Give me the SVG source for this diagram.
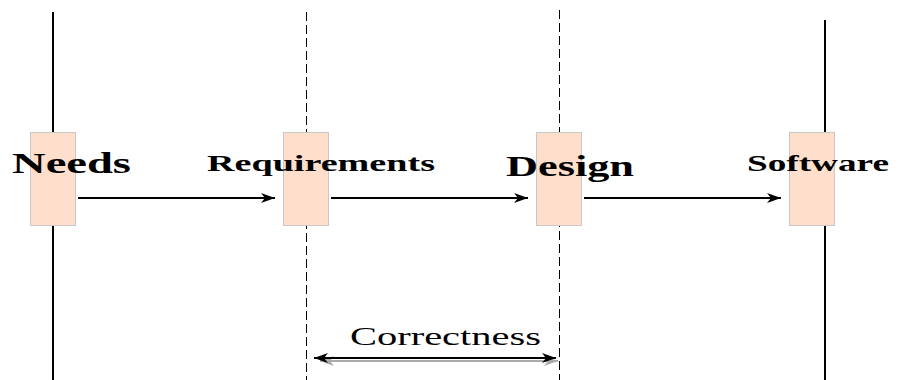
<svg xmlns="http://www.w3.org/2000/svg" width="907" height="380" viewBox="0 0 907 380">
<style>
.life{stroke:#000;stroke-width:2;fill:none}
.dash{stroke:#000;stroke-width:1;stroke-dasharray:9 4;fill:none}
.box{fill:#ffdfcc;stroke:#c8c8c8;stroke-width:1}
.lbl{font-family:"Liberation Serif","Times New Roman",serif;font-weight:bold;fill:#000}
.msg{stroke:#000;stroke-width:2;fill:none}
</style>
<defs>
<marker id="ah" viewBox="0 0 14 10" refX="14" refY="5" markerWidth="15" markerHeight="10" markerUnits="userSpaceOnUse" orient="auto-start-reverse">
<path d="M0,0 L14,5 L0,10 L4,5 Z" fill="#000"/>
</marker>
<marker id="ahg" viewBox="0 0 14 10" refX="14" refY="5" markerWidth="15" markerHeight="10" markerUnits="userSpaceOnUse" orient="auto-start-reverse">
<path d="M0,0 L14,5 L0,10 L4,5 Z" fill="#aaa"/>
</marker>
</defs>
<g id="lifelines">
<line class="life" x1="53" y1="12" x2="53" y2="132"/>
<line class="life" x1="53" y1="226" x2="53" y2="380" stroke="#555"/>
<line class="dash" x1="306.5" y1="12" x2="306.5" y2="380"/>
<line class="dash" x1="559.5" y1="10" x2="559.5" y2="380"/>
<line class="life" x1="825" y1="20" x2="825" y2="380"/>
</g>
<g id="needs">
<rect class="box" x="30.5" y="132.5" width="45" height="93"/>
<text class="lbl" x="12" y="173" font-size="30" textLength="119" lengthAdjust="spacingAndGlyphs">Needs</text>
</g>
<g id="requirements">
<rect class="box" x="283.5" y="132.5" width="45" height="93"/>
<text class="lbl" x="207" y="171" font-size="24" textLength="228" lengthAdjust="spacingAndGlyphs">Requirements</text>
</g>
<g id="design">
<rect class="box" x="536.5" y="132.5" width="45" height="93"/>
<text class="lbl" x="506" y="176" font-size="30" textLength="128" lengthAdjust="spacingAndGlyphs">Design</text>
</g>
<g id="software">
<rect class="box" x="789.5" y="132.5" width="45" height="93"/>
<text class="lbl" x="747" y="171" font-size="24" textLength="142" lengthAdjust="spacingAndGlyphs">Software</text>
</g>
<g id="connectors">
<line class="msg" x1="78" y1="198" x2="275" y2="198" marker-end="url(#ah)"/>
<line class="msg" x1="331" y1="198" x2="528" y2="198" marker-end="url(#ah)"/>
<line class="msg" x1="584" y1="198" x2="781" y2="198" marker-end="url(#ah)"/>
<line x1="320" y1="361" x2="558" y2="361" stroke="#aaa" stroke-width="2" marker-start="url(#ahg)" marker-end="url(#ahg)"/>
<line class="msg" x1="314" y1="358" x2="556" y2="358" marker-start="url(#ah)" marker-end="url(#ah)"/>
</g>
<g id="correctness">
<text x="350" y="345" font-family="Liberation Serif,'Times New Roman',serif" font-size="25" textLength="191" lengthAdjust="spacingAndGlyphs" fill="#000">Correctness</text>
</g>
</svg>
